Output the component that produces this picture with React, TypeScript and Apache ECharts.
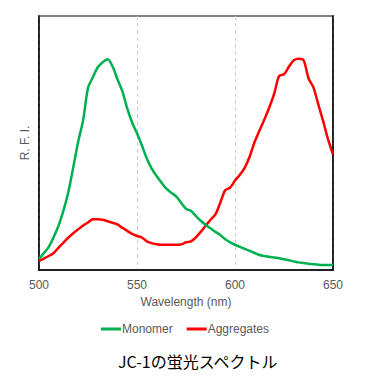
import React, { useEffect, useRef } from "react";
import * as echarts from "echarts";

const wavelengths = [
  500, 502.5, 505, 507.5, 510, 512.5, 515, 517.5, 520, 522.5, 525, 527.5, 530, 532.5, 535, 537.5,
  540, 542.5, 545, 547.5, 550, 552.5, 555, 557.5, 560, 562.5, 565, 567.5, 570, 572.5, 575, 577.5,
  580, 582.5, 585, 587.5, 590, 592.5, 595, 597.5, 600, 602.5, 605, 607.5, 610, 612.5, 615, 617.5,
  620, 622.5, 625, 627.5, 630, 632.5, 635, 637.5, 640, 642.5, 645, 647.5, 650,
];

const monomer = [
  4.3, 6.7, 9.1, 13.0, 17.5, 23.5, 30.8, 40.5, 50.6, 58.9, 71.7, 75.9, 79.8, 81.8, 83.0, 80.2,
  75.1, 70.4, 63.6, 58.1, 53.8, 49.0, 43.9, 39.9, 37.0, 34.4, 32.0, 30.4, 29.0, 26.5, 24.1, 23.3,
  21.3, 19.4, 17.8, 16.4, 15.0, 13.8, 12.1, 10.9, 9.9, 9.1, 8.3, 7.5, 6.7, 5.9, 5.5, 5.2,
  4.9, 4.6, 4.2, 3.8, 3.4, 3.0, 2.8, 2.5, 2.3, 2.1, 2.0, 2.0, 2.0,
];

const aggregates = [
  3.6, 4.5, 5.5, 6.7, 8.8, 10.8, 12.8, 14.5, 16.0, 17.5, 18.7, 20.0, 20.0, 19.8, 19.2, 18.6,
  18.0, 16.6, 15.4, 14.2, 13.4, 12.8, 11.3, 10.6, 10.1, 9.9, 9.9, 9.9, 9.9, 10.1, 10.9, 11.3,
  12.8, 15.0, 17.4, 19.8, 21.9, 26.5, 31.4, 32.4, 35.2, 37.5, 40.3, 44.7, 50.4, 54.9, 59.3, 64.0,
  69.4, 76.4, 77.1, 80.0, 82.6, 83.2, 82.6, 75.5, 71.9, 65.2, 58.5, 51.4, 45.5,
];

const xTicks = [500, 550, 600, 650];
const seriesNames = ["Monomer", "Aggregates"];
const chartTitle = "JC-1の蛍光スペクトル";

export default function App() {
  const ref = useRef<HTMLDivElement>(null);

  useEffect(() => {
    if (!ref.current) return;
    const chart = echarts.init(ref.current, undefined, { renderer: "svg" });
    const font = "'Liberation Sans', Arial, sans-serif";
    const toPairs = (vals: number[]) => wavelengths.map((w, i) => [w, vals[i]]);
    chart.setOption({
      animation: false,
      backgroundColor: "#ffffff",
      title: {
        text: chartTitle,
        left: 113,
        top: 348,
        textStyle: {
          fontFamily: "Noto Sans CJK JP",
          fontSize: 16,
          fontWeight: "normal",
          color: "#000000",
        },
      },
      legend: {
        data: seriesNames,
        left: "center",
        top: 318,
        icon: "rect",
        itemWidth: 20,
        itemHeight: 3,
        itemGap: 14,
        textStyle: { fontFamily: font, fontSize: 12, color: "#595959", padding: [0, 0, 0, -4] },
      },
      grid: {
        left: 39,
        right: 37,
        top: 16,
        bottom: 120,
        show: true,
        borderColor: "#808080",
        borderWidth: 2,
      },
      xAxis: {
        type: "value",
        min: 500,
        max: 650,
        interval: 50,
        name: "Wavelength (nm)",
        nameLocation: "middle",
        nameGap: 24,
        nameTextStyle: { fontFamily: font, fontSize: 12, color: "#595959" },
        axisLine: { show: true, onZero: false, lineStyle: { color: "#000000", width: 1.5 } },
        axisTick: { show: false },
        axisLabel: {
          fontFamily: font,
          fontSize: 12,
          color: "#595959",
          margin: 9,
          customValues: xTicks,
        },
        splitLine: { show: true, lineStyle: { color: "#d0d0d0", type: [4, 3], width: 1 } },
      },
      yAxis: [
        {
          type: "value",
          min: 0,
          max: 100,
          name: "R. F. I.",
          nameLocation: "middle",
          nameGap: 8,
          nameRotate: 90,
          nameTextStyle: { fontFamily: font, fontSize: 12, color: "#595959" },
          axisLine: { show: true, lineStyle: { color: "#000000", width: 1.5 } },
          axisTick: { show: false },
          axisLabel: { show: false },
          splitLine: { show: false },
        },
        {
          type: "value",
          position: "right",
          min: 0,
          max: 100,
          axisLine: { show: true, lineStyle: { color: "#000000", width: 1.5 } },
          axisTick: { show: false },
          axisLabel: { show: false },
          splitLine: { show: false },
        },
      ],
      series: [
        {
          name: seriesNames[0],
          type: "line",
          data: toPairs(monomer),
          smooth: 0.3,
          showSymbol: false,
          lineStyle: { color: "#00b050", width: 2.5 },
          itemStyle: { color: "#00b050" },
          z: 3,
        },
        {
          name: seriesNames[1],
          type: "line",
          data: toPairs(aggregates),
          smooth: 0.3,
          showSymbol: false,
          lineStyle: { color: "#ff0000", width: 2.5 },
          itemStyle: { color: "#ff0000" },
          z: 2,
        },
      ],
    });
    return () => chart.dispose();
  }, []);

  return (
    <div
      ref={ref}
      style={{ position: "absolute", left: 0, top: 0, width: 370, height: 390 }}
    />
  );
}
